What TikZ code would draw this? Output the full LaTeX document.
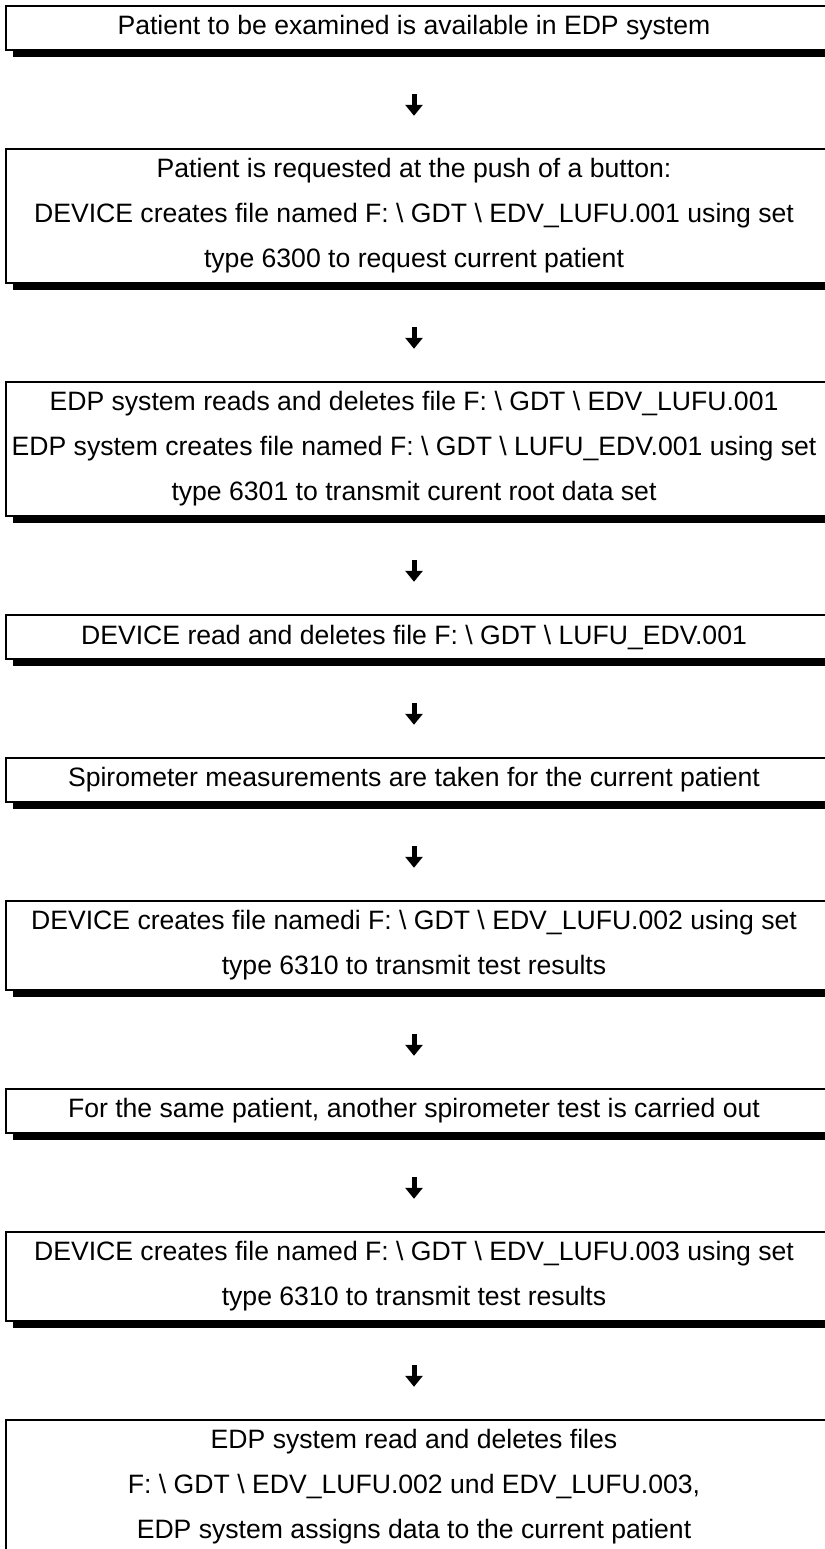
\documentclass[tikz,border=0pt]{standalone}
\usepackage{fontspec}
\setmainfont{Liberation Sans}
\usetikzlibrary{arrows.meta,backgrounds,calc}
\begin{document}
\begin{tikzpicture}[x=1pt,y=-1pt,
  txt/.style={inner sep=0pt, align=center, font=\fontsize{26.6}{45}\selectfont},
  boxline/.style={draw=black, line width=2pt, fill=white},
  boxshadow/.style={fill=black},
  arr/.style={line width=5pt, -{Triangle[width=17pt,length=11pt]}, shorten <=44pt, shorten >=33pt}
]
\useasboundingbox (0,0) rectangle (824,1549);
\coordinate (L) at (6,0);
\coordinate (R) at (870,0);

\node[txt, minimum height=44pt] (b1) at (414,28) {Patient to be examined is available in EDP system};
\node[txt, minimum height=134pt] (b2) at (414,216) {Patient is requested at the push of a button:\\DEVICE creates file named F: \textbackslash{} GDT \textbackslash{} EDV\_LUFU.001 using set\\type 6300 to request current patient};
\node[txt, minimum height=134pt] (b3) at (414,449) {EDP system reads and deletes file F: \textbackslash{} GDT \textbackslash{} EDV\_LUFU.001\\EDP system creates file named F: \textbackslash{} GDT \textbackslash{} LUFU\_EDV.001 using set\\type 6301 to transmit curent root data set};
\node[txt, minimum height=44pt] (b4) at (414,637) {DEVICE read and deletes file F: \textbackslash{} GDT \textbackslash{} LUFU\_EDV.001};
\node[txt, minimum height=44pt] (b5) at (414,780) {Spirometer measurements are taken for the current patient};
\node[txt, minimum height=89pt] (b6) at (414,945.5) {DEVICE creates file namedi F: \textbackslash{} GDT \textbackslash{} EDV\_LUFU.002 using set\\type 6310 to transmit test results};
\node[txt, minimum height=44pt] (b7) at (414,1111) {For the same patient, another spirometer test is carried out};
\node[txt, minimum height=89pt] (b8) at (414,1276.5) {DEVICE creates file named F: \textbackslash{} GDT \textbackslash{} EDV\_LUFU.003 using set\\type 6310 to transmit test results};
\node[txt, minimum height=134pt] (b9) at (414,1487) {EDP system read and deletes files\\F: \textbackslash{} GDT \textbackslash{} EDV\_LUFU.002 und EDV\_LUFU.003,\\EDP system assigns data to the current patient};

\begin{scope}[on background layer]
\foreach \b in {b1,b2,b3,b4,b5,b6,b7,b8,b9}{
  \fill[boxshadow] ($(L |- \b.north)+(7,7)$) rectangle ($(R |- \b.south)+(7,7)$);
  \draw[boxline] (L |- \b.north) rectangle (R |- \b.south);
}
\end{scope}

\foreach \a/\b in {b1/b2,b2/b3,b3/b4,b4/b5,b5/b6,b6/b7,b7/b8,b8/b9}{
  \draw[arr] (\a.south) -- (\b.north);
}
\end{tikzpicture}
\end{document}
